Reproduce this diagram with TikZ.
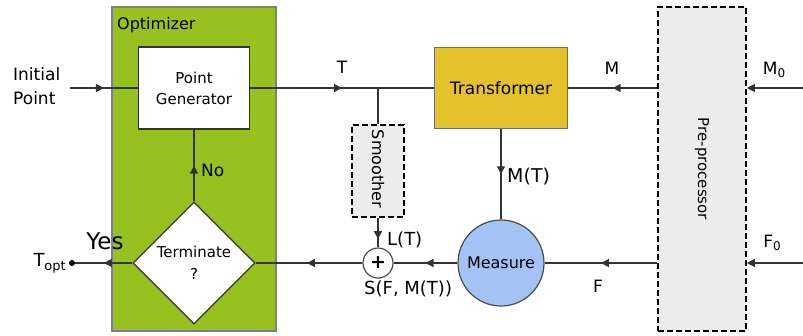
\documentclass[tikz,border=0pt]{standalone}
\usepackage{fontspec}
\setmainfont{DejaVu Sans}
\usetikzlibrary{arrows.meta,decorations.markings,shapes.geometric}
\definecolor{optgreen}{RGB}{151,193,31}
\definecolor{trgold}{RGB}{227,194,43}
\definecolor{meblue}{RGB}{164,194,244}
\definecolor{ppgray}{RGB}{236,236,236}
\definecolor{edgegray}{RGB}{110,110,110}
\newcommand{\fs}[1]{\fontsize{#1}{#1}\selectfont}
\begin{document}
\begin{tikzpicture}[x=1pt,y=-1pt,
  font=\fs{15},
  wire/.style={line width=1.2pt,draw=black!80},
  midarrow/.style={postaction={decorate},decoration={markings,
     mark=at position #1 with {\arrow{Triangle[length=8pt,width=8pt]}}}},
  endtip/.style={-{Triangle[length=8pt,width=8pt]}},
  block/.style={draw=edgegray,line width=1.2pt,inner sep=0pt,align=center},
  dbox/.style={draw=black,line width=1.6pt,dash pattern=on 6pt off 3pt,fill=ppgray,inner sep=0pt},
  lbl/.style={inner sep=0pt,font=\fs{17}}
]
\useasboundingbox (0,0) rectangle (803,335);

% blocks
\node[block,fill=optgreen,draw=gray,minimum width=164pt,minimum height=324pt] (opt) at (194,169) {};
\node[inner sep=0pt,anchor=west,font=\fs{16}] (optl) at (117,25) {Optimizer};
\node[block,fill=white,draw=black!80,minimum width=111pt,minimum height=82pt] (pg) at (194,88) {Point\\[6pt]Generator};
\node[block,fill=white,draw=black!80,diamond,minimum width=122pt,minimum height=122pt,aspect=1] (dm) at (194,263) {Terminate\\[7pt]?};
\node[block,fill=trgold,minimum width=133pt,minimum height=81pt,font=\fs{17}] (tr) at (501,88) {Transformer};
\node[dbox,minimum width=88pt,minimum height=324pt] (pp) at (702,169) {};
\node[rotate=-90,inner sep=0pt,font=\fs{15}] (ppl) at (702,169) {Pre-processor};
\node[dbox,minimum width=52pt,minimum height=92pt] (sm) at (378,171) {};
\node[rotate=-90,inner sep=0pt,font=\fs{16}] (sml) at (378,169) {Smoother};
\node[block,circle,fill=meblue,draw=black!70,minimum size=86pt,font=\fs{16}] (me) at (501,263) {Measure};
\node[block,circle,fill=white,draw=black!70,minimum size=30pt,font=\fs{19}\bfseries] (plus) at (378,263) {+};

% end points
\coordinate (init) at (70,88);
\node[circle,fill=black,inner sep=0pt,minimum size=6pt] (topt) at (72,263) {};
\coordinate (m0in) at (803,88);
\coordinate (f0in) at (803,263);

% connectors
\draw[wire,midarrow=0.5] (init) -- (pg.west);
\draw[wire,midarrow=0.5] (pg.east) -- (tr.west);
\draw[wire] (sm.north |- pg.east) -- (sm.north);
\draw[wire,midarrow=0.5] (pp.west |- tr.east) -- (tr.east);
\draw[wire,endtip] (m0in) -- (pp.east |- m0in);
\draw[wire,endtip] (f0in) -- (pp.east |- f0in);
\draw[wire,midarrow=0.5] (pp.west |- me.east) -- (me.east);
\draw[wire,midarrow=0.5] (tr.south) -- (me.north);
\draw[wire,midarrow=0.5] (me.west) -- (plus.east);
\draw[wire,midarrow=0.72] (sm.south) -- (plus.north);
\draw[wire,midarrow=0.52] (plus.west) -- (dm.east);
\draw[wire,midarrow=0.5] (dm.north) -- (pg.south);
\draw[wire,midarrow=0.5] (dm.west) -- (topt);

% labels
\node[lbl,anchor=west,align=left] (initl) at (13,86) {Initial\\[7pt]Point};
\node[lbl] (tl) at (342,67) {T};
\node[lbl] (ml) at (612,68) {M};
\node[lbl] (m0l) at (774,70) {M\raisebox{-3pt}{\fs{12}0}};
\node[lbl] (f0l) at (772,243) {F\raisebox{-3pt}{\fs{12}0}};
\node[lbl] (fl) at (598,286) {F};
\node[lbl,anchor=west,font=\fs{19}] (mtl) at (507,177) {M(T)};
\node[lbl,anchor=west,font=\fs{18}] (ltl) at (387,240) {L(T)};
\node[lbl,anchor=west,font=\fs{18}] (sfl) at (364,289) {S(F, M(T))};
\node[lbl,anchor=west] (nol) at (201,170) {No};
\node[inner sep=0pt,font=\fs{23}] (yesl) at (105,241) {Yes};
\node[lbl,anchor=east,font=\fs{18}] (toptl) at (66,263) {T\raisebox{-4pt}{\fs{13}opt}};
\end{tikzpicture}
\end{document}
